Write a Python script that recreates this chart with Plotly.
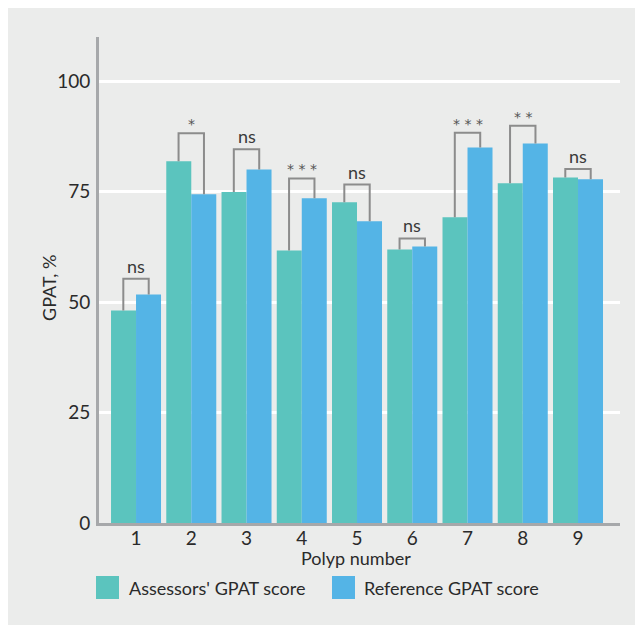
import plotly.graph_objects as go

polyps = [1, 2, 3, 4, 5, 6, 7, 8, 9]
tick_labels = ["1", "2", "3", "4", "5", "6", "7", "8", "9"]
assessors = [48.1, 81.9, 74.9, 61.7, 72.6, 61.9, 69.2, 76.9, 78.2]
reference = [51.7, 74.4, 80.0, 73.5, 68.3, 62.6, 85.0, 85.9, 77.8]
bracket_tops = [55.3, 88.2, 84.6, 78.0, 76.6, 64.4, 88.3, 89.9, 80.1]
sig_labels = ["ns", "*", "ns", "* * *", "ns", "ns", "* * *", "* *", "ns"]
y_ticks = [0, 25, 50, 75, 100]
series_names = ["Assessors' GPAT score", "Reference GPAT score"]

TEAL = "#5bc4be"
BLUE = "#54b4e6"
BG = "#ebeceb"
FONT = "Lato"

W, H = 643, 625
OFF = 8  # page body margin
L, T = 99 - OFF, 37 - OFF
R = W - (620 - OFF)
B = H - (523 - OFF)
pw, ph = W - L - R, H - T - B

def px_x(p):  # page pixel -> paper x
    return (p - OFF - L) / pw

def px_y(p):  # page pixel -> paper y
    return (523 - p) / ph

fig = go.Figure()
fig.add_bar(x=polyps, y=assessors, name=series_names[0], marker_color=TEAL,
            marker_line_width=0, showlegend=False)
fig.add_bar(x=polyps, y=reference, name=series_names[1], marker_color=BLUE,
            marker_line_width=0, showlegend=False)

shapes = []
off = 0.23
annotations = []
for p, a, r, top, lab in zip(polyps, assessors, reference, bracket_tops, sig_labels):
    path = f"M {p-off},{a} L {p-off},{top} L {p+off},{top} L {p+off},{r}"
    shapes.append(dict(type="path", path=path, xref="x", yref="y",
                       line=dict(color="#8c8c8c", width=2), layer="above"))
    is_star = "*" in lab
    annotations.append(dict(x=p, y=top, xref="x", yref="y", text=lab,
                            showarrow=False, yanchor="bottom", xanchor="center",
                            yshift=-1 if is_star else 0,
                            font=dict(family="DejaVu Sans" if is_star else FONT,
                                      size=14 if is_star else 18,
                                      color="#555555" if is_star else "#3a3a3a")))

# axis titles
annotations.append(dict(x=px_x(49), y=px_y(288), xref="paper", yref="paper",
                        text="GPAT, %", showarrow=False, textangle=-90,
                        xanchor="center", yanchor="middle",
                        font=dict(family=FONT, size=18, color="#2a2a2a")))
annotations.append(dict(x=px_x(356), y=px_y(558), xref="paper", yref="paper",
                        text="Polyp number", showarrow=False,
                        xanchor="center", yanchor="middle",
                        font=dict(family=FONT, size=18, color="#2a2a2a")))

# legend (manual)
for (x0, x1, tx), col, name in zip([(96, 119, 127), (332, 355, 362)], [TEAL, BLUE], series_names):
    shapes.append(dict(type="rect", xref="paper", yref="paper",
                       x0=px_x(x0), x1=px_x(x1), y0=px_y(599), y1=px_y(576),
                       fillcolor=col, line_width=0))
    annotations.append(dict(x=px_x(tx), y=px_y(587.5), xref="paper", yref="paper",
                            text=name, showarrow=False, xanchor="left",
                            yanchor="middle",
                            font=dict(family=FONT, size=18, color="#2a2a2a")))

fig.update_layout(
    width=W, height=H,
    margin=dict(l=L, r=R, t=T, b=B, pad=0),
    paper_bgcolor=BG, plot_bgcolor=BG,
    barmode="group", bargap=0.095, bargroupgap=0,
    shapes=shapes, annotations=annotations,
    showlegend=False,
    font=dict(family=FONT, size=18, color="#2a2a2a"),
)
fig.update_xaxes(range=[0.33, 9.76], tickvals=polyps, ticktext=tick_labels,
                 showgrid=False, zeroline=False, showline=True,
                 linecolor="#a6a8aa", linewidth=3, ticks="", ticklabelstandoff=-4,
                 tickfont=dict(family=FONT, size=19, color="#2a2a2a"))
fig.update_yaxes(range=[0, 110], tickvals=y_ticks, showgrid=True,
                 gridcolor="white", gridwidth=2.5, zeroline=False,
                 showline=True, linecolor="#a6a8aa", linewidth=3, ticks="",
                 ticklabelstandoff=2,
                 tickfont=dict(family=FONT, size=19, color="#2a2a2a"))

fig.write_html("out.html")
